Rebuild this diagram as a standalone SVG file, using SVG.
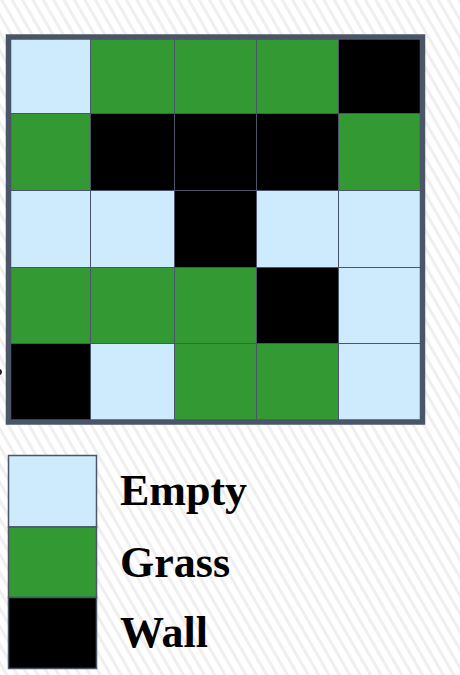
<svg xmlns="http://www.w3.org/2000/svg" width="460" height="675" viewBox="0 0 460 675">
<style>
.cell{stroke:#4a5568;stroke-width:1}
.e{fill:#cdebfd}
.g{fill:#339933}
.w{fill:#000000}
.lg{stroke:#4a5568;stroke-width:1.5}
.lbl{font-family:"Liberation Serif","Times New Roman",serif;font-weight:bold;font-size:44px;fill:#000}
</style>
<defs>
<pattern id="bg" width="9" height="9" patternUnits="userSpaceOnUse" patternTransform="rotate(-30)">
<rect width="9" height="9" fill="#ffffff"/>
<rect x="0" y="0" width="3" height="9" fill="#efefef"/>
</pattern>
</defs>
<rect width="460" height="675" fill="url(#bg)"/>
<circle cx="-1" cy="372" r="3" fill="#222"/>
<g id="grid">
<g id="r0">
<rect class="cell e" x="8.5" y="37" width="82" height="76.5"/>
<rect class="cell g" x="90.5" y="37" width="84" height="76.5"/>
<rect class="cell g" x="174.5" y="37" width="82" height="76.5"/>
<rect class="cell g" x="256.5" y="37" width="82" height="76.5"/>
<rect class="cell w" x="338.5" y="37" width="84" height="76.5"/>
</g>
<g id="r1">
<rect class="cell g" x="8.5" y="113.5" width="82" height="77"/>
<rect class="cell w" x="90.5" y="113.5" width="84" height="77"/>
<rect class="cell w" x="174.5" y="113.5" width="82" height="77"/>
<rect class="cell w" x="256.5" y="113.5" width="82" height="77"/>
<rect class="cell g" x="338.5" y="113.5" width="84" height="77"/>
</g>
<g id="r2">
<rect class="cell e" x="8.5" y="190.5" width="82" height="77"/>
<rect class="cell e" x="90.5" y="190.5" width="84" height="77"/>
<rect class="cell w" x="174.5" y="190.5" width="82" height="77"/>
<rect class="cell e" x="256.5" y="190.5" width="82" height="77"/>
<rect class="cell e" x="338.5" y="190.5" width="84" height="77"/>
</g>
<g id="r3">
<rect class="cell g" x="8.5" y="267.5" width="82" height="76"/>
<rect class="cell g" x="90.5" y="267.5" width="84" height="76"/>
<rect class="cell g" x="174.5" y="267.5" width="82" height="76"/>
<rect class="cell w" x="256.5" y="267.5" width="82" height="76"/>
<rect class="cell e" x="338.5" y="267.5" width="84" height="76"/>
</g>
<g id="r4">
<rect class="cell w" x="8.5" y="343.5" width="82" height="78.5"/>
<rect class="cell e" x="90.5" y="343.5" width="84" height="78.5"/>
<rect class="cell g" x="174.5" y="343.5" width="82" height="78.5"/>
<rect class="cell g" x="256.5" y="343.5" width="82" height="78.5"/>
<rect class="cell e" x="338.5" y="343.5" width="84" height="78.5"/>
</g>
<rect id="frame" x="8.5" y="37" width="414" height="385" fill="none" stroke="#4a5568" stroke-width="5.5"/>
</g>
<g id="legend">
<g id="leg-empty">
<rect class="lg e" x="8.5" y="455.5" width="88" height="71.5"/>
<text class="lbl" x="120" y="504.5">Empty</text>
</g>
<g id="leg-grass">
<rect class="lg g" x="8.5" y="527" width="88" height="70.5"/>
<text class="lbl" x="120" y="576.5">Grass</text>
</g>
<g id="leg-wall">
<rect class="lg w" x="8.5" y="597.5" width="88" height="71"/>
<text class="lbl" x="120" y="646.5">Wall</text>
</g>
</g>
<g id="connectors"></g>
</svg>
